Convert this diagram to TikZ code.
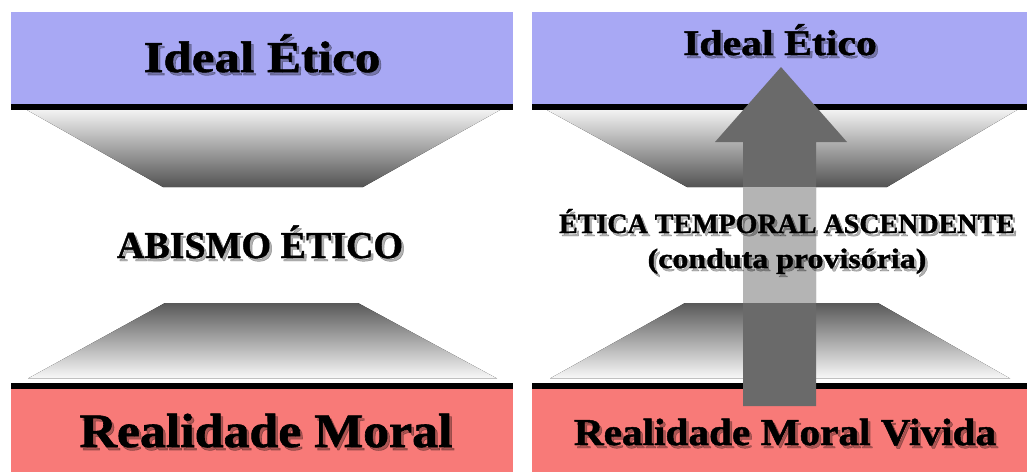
\documentclass[tikz,border=0pt]{standalone}
\usepackage{fontspec}
\setmainfont{Liberation Serif}[BoldFeatures={FakeBold=1.2}]
\usetikzlibrary{calc}
\definecolor{idealblue}{HTML}{A8A8F4}
\definecolor{realred}{HTML}{F87A78}
\definecolor{arrowdark}{HTML}{6A6A6A}
\definecolor{arrowlight}{HTML}{B4B4B4}
\tikzset{
  txt/.style={anchor=base, inner sep=0pt, font=\bfseries, text=black},
  shd/.style={txt, opacity=0.3},
  bluebox/.style={fill=idealblue},
  redbox/.style={fill=realred},
  edgeline/.style={fill=black},
  topfunnel/.style={top color=gray!10, bottom color=gray!65!black},
  botfunnel/.style={top color=gray!70!black, bottom color=gray!5},
}
\newcommand{\shtxt}[6]{%
  \node[shd] (#1-sh) at (#2+2.5,#3+3) {\fontsize{#4}{#4}\selectfont\scalebox{#5}[1]{#6}};
  \node[txt] (#1) at (#2,#3) {\fontsize{#4}{#4}\selectfont\scalebox{#5}[1]{#6}};
}
\begin{document}
\begin{tikzpicture}[x=1pt,y=-1pt]
\useasboundingbox (0,0) rectangle (1027,472);
\fill[white] (0,0) rectangle (1027,472);
% left panel
\fill[bluebox] (11,12) rectangle (513,105);
\fill[edgeline] (11,104) rectangle (513,109.5);
\fill[topfunnel] (27,110) -- (500,110) -- (363,187) -- (163,187) -- cycle;
\fill[botfunnel] (165,303) -- (358,303) -- (497,378.5) -- (28,378.5) -- cycle;
\fill[edgeline] (11,383) rectangle (513,389);
\fill[redbox] (11,389) rectangle (513,472);
% right panel
\fill[bluebox] (532,12) rectangle (1027,105);
\fill[edgeline] (532,104) rectangle (1027,109.5);
\fill[topfunnel] (547,110) -- (1017,110) -- (887,187) -- (687,187) -- cycle;
\fill[botfunnel] (685,303) -- (878,303) -- (1010,378.5) -- (550,378.5) -- cycle;
\fill[edgeline] (532,383) rectangle (1027,389);
\fill[redbox] (532,389) rectangle (1027,472);
% arrow
\fill[arrowdark] (743,406) -- (743,142) -- (715,142) -- (781,67) -- (847,142) -- (816,142) -- (816,406) -- cycle;
\fill[arrowlight] (743,187) rectangle (816,303);
% texts
\shtxt{idealL}{262}{72}{44}{1.16}{Ideal Ético}
\shtxt{abismo}{260}{258}{38}{1.0}{ABISMO ÉTICO}
\shtxt{realL}{266}{447}{48}{1.08}{Realidade Moral}
\shtxt{idealR}{780}{55}{36}{1.16}{Ideal Ético}
\shtxt{etica}{787}{233}{28}{1.0}{ÉTICA TEMPORAL ASCENDENTE}
\shtxt{conduta}{787}{268}{28}{1.14}{(conduta provisória)}
\shtxt{realR}{785}{445}{38}{1.085}{Realidade Moral Vivida}
\end{tikzpicture}
\end{document}
